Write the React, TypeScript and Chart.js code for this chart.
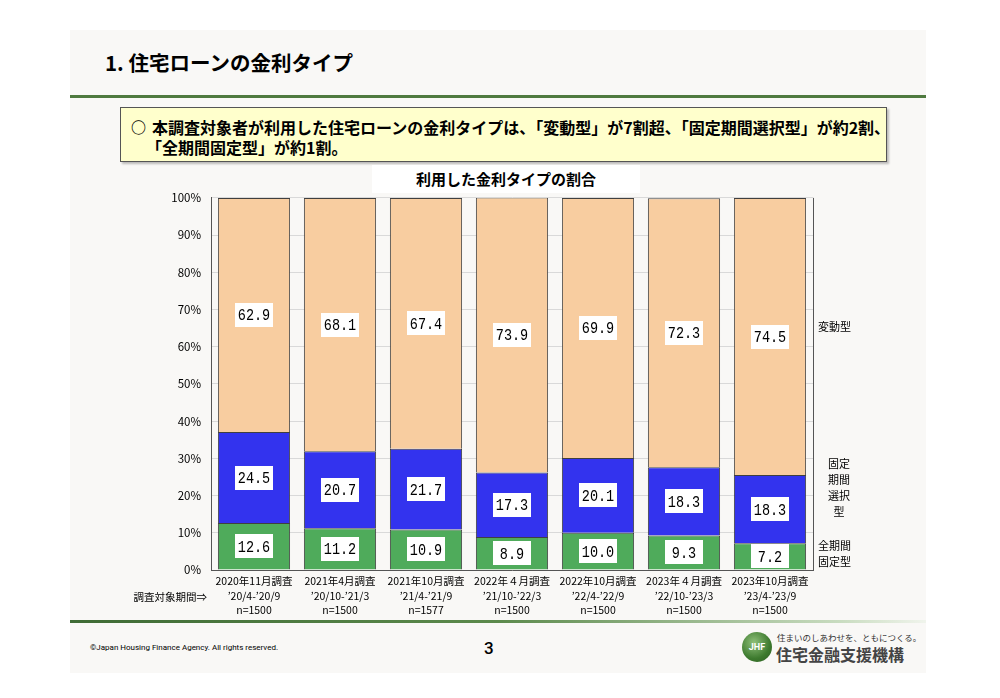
import React, { useEffect, useRef } from "react";
import { Chart, registerables } from "chart.js";

Chart.register(...registerables);

const surveys = ["2020年11月調査", "2021年4月調査", "2021年10月調査", "2022年４月調査", "2022年10月調査", "2023年４月調査", "2023年10月調査"];
const periods = ["’20/4-’20/9", "’20/10-’21/3", "’21/4-’21/9", "’21/10-’22/3", "’22/4-’22/9", "’22/10-’23/3", "’23/4-’23/9"];
const samples = ["n=1500", "n=1500", "n=1577", "n=1500", "n=1500", "n=1500", "n=1500"];

const fullFixed = [12.6, 11.2, 10.9, 8.9, 10.0, 9.3, 7.2];
const periodFixed = [24.5, 20.7, 21.7, 17.3, 20.1, 18.3, 18.3];
const variable = [62.9, 68.1, 67.4, 73.9, 69.9, 72.3, 74.5];

const yTicks = [0, 10, 20, 30, 40, 50, 60, 70, 80, 90, 100];

const FONT = "'Noto Sans CJK JP', 'Noto Sans', sans-serif";
const CANVAS_TOP = 181;

const labelsPlugin = {
  id: "segLabels",
  afterDatasetsDraw(chart: any) {
    const ctx = chart.ctx;
    const area = chart.chartArea;
    ctx.save();
    // right border of plot
    ctx.strokeStyle = "#555";
    ctx.lineWidth = 1;
    ctx.beginPath();
    ctx.moveTo(Math.round(area.right) + 0.5, area.top);
    ctx.lineTo(Math.round(area.right) + 0.5, area.bottom);
    ctx.stroke();

    chart.data.datasets.forEach((ds: any, di: number) => {
      const meta = chart.getDatasetMeta(di);
      meta.data.forEach((el: any, i: number) => {
        const v = ds.data[i];
        const cy = (el.y + el.base) / 2;
        const w = 38, h = 24;
        ctx.fillStyle = "#ffffff";
        ctx.fillRect(Math.round(el.x - w / 2), Math.round(cy - h / 2), w, h);
        ctx.fillStyle = "#000";
        ctx.font = "15px 'Liberation Mono', monospace";
        ctx.textAlign = "center";
        ctx.textBaseline = "middle";
        ctx.save();
        ctx.translate(el.x, cy + 1);
        ctx.scale(0.9, 1.12);
        ctx.fillText(v.toFixed(1), 0, 0);
        ctx.restore();
      });
    });

    // right side series labels
    ctx.fillStyle = "#000";
    ctx.font = `11px ${FONT}`;
    ctx.textBaseline = "middle";
    ctx.textAlign = "left";
    const x0 = area.right + 5;
    ctx.fillText("変動型", x0, 327 - CANVAS_TOP);
    ctx.textAlign = "center";
    const cx = x0 + 21;
    ["固定", "期間", "選択", "型"].forEach((t, k) => ctx.fillText(t, cx, 464 - CANVAS_TOP + k * 16));
    ctx.textAlign = "left";
    ctx.fillText("全期間", x0, 546 - CANVAS_TOP);
    ctx.fillText("固定型", x0, 562 - CANVAS_TOP);

    // left label for x axis second line
    ctx.textAlign = "right";
    ctx.font = `10.5px ${FONT}`;
    ctx.fillText("調査対象期間⇒", area.left - 4, 597 - CANVAS_TOP);
    ctx.restore();
  },
};

export default function App() {
  const ref = useRef<HTMLCanvasElement>(null);
  useEffect(() => {
    if (!ref.current) return;
    const chart = new Chart(ref.current, {
      type: "bar",
      data: {
        labels: surveys.map((s, i) => [s, periods[i], samples[i]]),
        datasets: [
          { label: "全期間固定型", data: fullFixed, backgroundColor: "#4fab5b", borderColor: "#404040", borderWidth: 1 },
          { label: "固定期間選択型", data: periodFixed, backgroundColor: "#3333ee", borderColor: "#404040", borderWidth: 1 },
          { label: "変動型", data: variable, backgroundColor: "#f8cda0", borderColor: "#404040", borderWidth: 1 },
        ],
      },
      options: {
        responsive: false,
        animation: false,
        layout: { padding: { top: 10, right: 87, bottom: 0, left: 0 } },
        plugins: { legend: { display: false }, tooltip: { enabled: false }, title: { display: false } },
        datasets: { bar: { categoryPercentage: 1, barPercentage: 0.84 } },
        scales: {
          x: {
            stacked: true,
            grid: { display: false, drawTicks: false },
            border: { display: true, color: "#555", width: 1 },
            ticks: { color: "#000", font: { family: FONT, size: 10.5, lineHeight: 1.38 }, padding: 4, maxRotation: 0, autoSkip: false },
            afterFit: (s: any) => { s.height = 53; },
          },
          y: {
            stacked: true,
            min: 0,
            max: 100,
            afterBuildTicks: (s: any) => { s.ticks = yTicks.map((v) => ({ value: v })); },
            grid: { color: "#d9d9d9", drawTicks: false },
            border: { display: true, color: "#555", width: 1 },
            ticks: { color: "#000", font: { family: FONT, size: 11.5 }, padding: 10, callback: (v: any) => v + "%" },
            afterFit: (s: any) => { s.width = 111; },
          },
        },
      },
      plugins: [labelsPlugin],
    });
    return () => chart.destroy();
  }, []);

  const abs = (o: any) => ({ position: "absolute" as const, ...o });

  return (
    <div style={abs({ left: 0, top: 0, width: 1000, height: 698, background: "#ffffff", overflow: "hidden", fontFamily: FONT, color: "#000" })}>
      <div style={abs({ left: 70, top: 30, width: 856, height: 643, background: "#f9f8f6" })} />
      <div style={abs({ left: 105, top: 47, fontSize: 20.5, fontWeight: 700, lineHeight: "30px", whiteSpace: "nowrap" })}>1. 住宅ローンの金利タイプ</div>
      <div style={abs({ left: 70, top: 95, width: 856, height: 3, background: "#4f7a3f" })} />
      <div style={abs({ left: 120, top: 107, width: 767, height: 55, background: "#ffffcc", border: "1.5px solid #555", boxSizing: "border-box", boxShadow: "2px 2px 2px rgba(0,0,0,0.25)" })} />
      <div style={abs({ left: 131, top: 117, fontSize: 15, fontWeight: 700, lineHeight: "20px" })}>○</div>
      <div style={abs({ left: 152, top: 117, fontSize: 16, fontWeight: 700, lineHeight: "20px", whiteSpace: "nowrap" })}>本調査対象者が利用した住宅ローンの金利タイプは、「変動型」が7割超、「固定期間選択型」が約2割、</div>
      <div style={abs({ left: 146, top: 137, fontSize: 16, fontWeight: 700, lineHeight: "20px", whiteSpace: "nowrap" })}>「全期間固定型」が約1割。</div>
      <div style={abs({ left: 372, top: 165, width: 268, height: 28, background: "#ffffff", fontSize: 15, fontWeight: 700, lineHeight: "28px", textAlign: "center" })}>利用した金利タイプの割合</div>
      <canvas ref={ref} width={800} height={442} style={abs({ left: 100, top: CANVAS_TOP, width: 800, height: 442 })} />
      <div style={abs({ left: 70, top: 620, width: 856, height: 3, background: "linear-gradient(to right, #3f6b35 0%, #5c8a4c 50%, #c9dcc0 90%, #f0f4ec 100%)" })} />
      <div style={abs({ left: 90, top: 642, fontSize: 8, lineHeight: "12px", whiteSpace: "nowrap", fontFamily: "Roboto, sans-serif" })}>©Japan Housing Finance Agency. All rights reserved.</div>
      <div style={abs({ left: 484, top: 636, fontSize: 17, fontWeight: 500, lineHeight: "24px", fontFamily: "Roboto, sans-serif" })}>3</div>
      <div style={abs({ left: 742, top: 632, width: 30, height: 30, borderRadius: 15, background: "radial-gradient(circle at 40% 35%, #8fc07a, #3d7a2e 60%, #2b5a20)", color: "#fff", fontSize: 9, fontWeight: 700, lineHeight: "30px", textAlign: "center", fontFamily: "Roboto, sans-serif" })}>JHF</div>
      <div style={abs({ left: 777, top: 631, fontSize: 8.5, lineHeight: "12px", whiteSpace: "nowrap", color: "#333" })}>住まいのしあわせを、ともにつくる。</div>
      <div style={abs({ left: 776, top: 643, fontSize: 16, fontWeight: 700, lineHeight: "22px", whiteSpace: "nowrap", color: "#444" })}>住宅金融支援機構</div>
    </div>
  );
}
